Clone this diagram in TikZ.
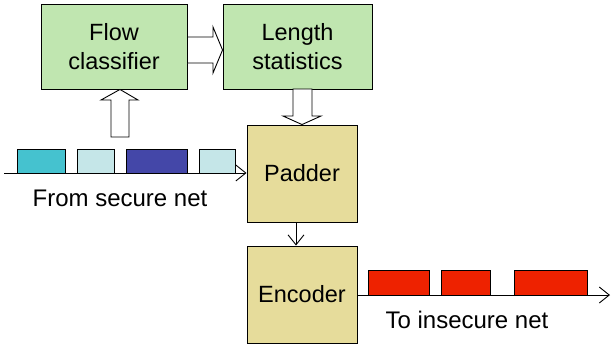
\documentclass[tikz,border=0pt]{standalone}
\usepackage{fontspec}
\setmainfont{Liberation Sans}
\usetikzlibrary{arrows.meta}
\definecolor{boxgreen}{RGB}{192,230,176}
\definecolor{boxsand}{RGB}{230,220,155}
\definecolor{pkteal}{RGB}{69,194,207}
\definecolor{pklight}{RGB}{197,230,232}
\definecolor{pkdark}{RGB}{68,71,168}
\definecolor{pkred}{RGB}{238,34,0}
\tikzset{
  block/.style={draw=black, line width=0.9pt, inner sep=0pt, align=center,
    font=\fontsize{23.5}{29}\selectfont},
  greenbox/.style={block, fill=boxgreen},
  sandbox/.style={block, fill=boxsand},
  packet/.style={draw=black, line width=0.8pt},
  hollow/.style={draw=black, line width=0.9pt, fill=white},
  wire/.style={line width=0.9pt, -{Straight Barb[length=10pt,width=16pt,line width=0.9pt]}},
  caption/.style={font=\fontsize{24}{28}\selectfont}
}
\begin{document}
\begin{tikzpicture}[x=1pt,y=-1pt]
\useasboundingbox (0,0) rectangle (611,349);

% processing blocks
\node[greenbox, minimum width=146pt, minimum height=85pt] (fc) at (114,46.5) {Flow\\classifier};
\node[greenbox, minimum width=149pt, minimum height=85pt] (ls) at (297.5,46.5) {Length\\statistics};
\node[sandbox, minimum width=110pt, minimum height=97pt] (pad) at (302,173.5) {Padder};
\node[sandbox, minimum width=110pt, minimum height=97pt] (enc) at (302,294.5) {Encoder};

% hollow block arrows
\draw[hollow] (fc.east |- 0,37) -- (213,37) -- (213,27) -- (ls.west |- 0,50) -- (213,73) -- (213,63) -- (fc.east |- 0,63) -- cycle;
\draw[hollow] (111,137) -- (111,100) -- (101,100) -- (fc.south -| 120,0) -- (138,100) -- (129,100) -- (129,137) -- cycle;
\draw[hollow] (293,89) -- (293,116) -- (283,116) -- (pad.north -| 302,0) -- (321,116) -- (312,116) -- (312,89) -- cycle;

% incoming packet stream
\coordinate (in) at (4,173);
\draw[wire] (in) -- (pad.west |- in);
\draw[packet, fill=pkteal]  (17,149) rectangle (65,173);
\draw[packet, fill=pklight] (77,149) rectangle (114,173);
\draw[packet, fill=pkdark]  (126,149) rectangle (187,173);
\draw[packet, fill=pklight] (199,149) rectangle (235,173);
\node[caption] (src) at (120,198) {From secure net};

% padder to encoder
\draw[wire] (pad.south -| 296,0) -- (enc.north -| 296,0);

% outgoing packet stream
\coordinate (out) at (610,295);
\draw[wire] (enc.east |- out) -- (out);
\draw[packet, fill=pkred] (368,270) rectangle (429,295);
\draw[packet, fill=pkred] (441,270) rectangle (490,295);
\draw[packet, fill=pkred] (514,270) rectangle (587,295);
\node[caption] (dst) at (467,320) {To insecure net};
\end{tikzpicture}
\end{document}
